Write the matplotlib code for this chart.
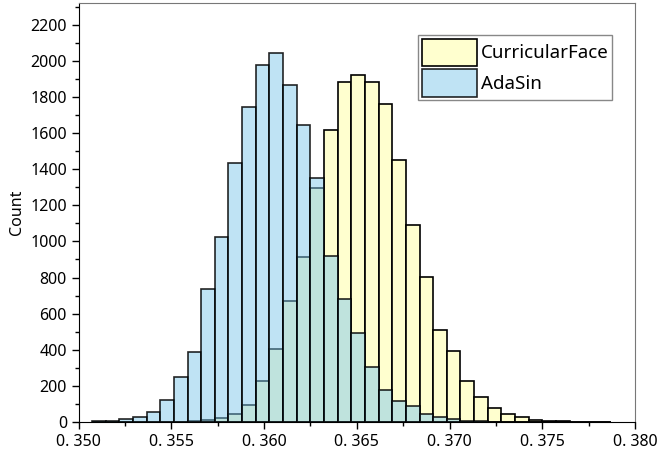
import numpy as np
import matplotlib
matplotlib.use('Agg')
import matplotlib.pyplot as plt
import matplotlib.ticker as ticker

# histogram bins (shared by both series)
bin_start = 0.350717
bin_width = 0.000736
n_bins = 38
edges = bin_start + bin_width * np.arange(n_bins + 1)
centers = (edges[:-1] + edges[1:]) / 2

# counts
curricular = [0, 0, 0, 0, 0, 1, 2, 5, 11, 24, 46, 92, 229, 404, 671, 915,
              1293, 1615, 1884, 1919, 1881, 1761, 1451, 1091, 803, 509, 393,
              227, 137, 75, 45, 28, 11, 5, 3, 2, 1, 1]
adasin = [3, 7, 14, 25, 53, 123, 249, 389, 737, 1024, 1435, 1742, 1974,
          2044, 1865, 1644, 1349, 920, 680, 495, 305, 178, 117, 88, 43, 28,
          15, 6, 3, 1, 0, 0, 0, 0, 0, 0, 0, 0]
labels = ['CurricularFace', 'AdaSin']

plt.rcParams['font.family'] = ['Noto Sans', 'DejaVu Sans']
plt.rcParams['font.size'] = 11

fig = plt.figure(figsize=(6.57, 4.54), dpi=100)
ax = fig.add_axes([0.1198, 0.0705, 0.8467, 0.9229])

ax.hist(centers, bins=edges, weights=curricular, facecolor='#FFFFCF',
        edgecolor='black', linewidth=1.2, label=labels[0])
ax.hist(centers, bins=edges, weights=adasin, facecolor=(0.5, 0.79, 0.92, 0.5),
        edgecolor=(0, 0, 0, 0.85), linewidth=1.2, label=labels[1])

ax.set_xlim(0.350, 0.380)
ax.set_ylim(0, 2320)
ax.xaxis.set_major_locator(ticker.MultipleLocator(0.005))
ax.xaxis.set_minor_locator(ticker.MultipleLocator(0.0025))
ax.yaxis.set_major_locator(ticker.MultipleLocator(200))
ax.yaxis.set_minor_locator(ticker.MultipleLocator(100))
ax.xaxis.set_major_formatter(ticker.FuncFormatter(lambda x, pos: f"{x:.3f}".replace('.', '. ')))
ax.tick_params(which='major', direction='out', length=5, width=1, labelsize=11.5)
ax.tick_params(which='minor', direction='out', length=3, width=1)

for side in ['top', 'right']:
    ax.spines[side].set_color('#777777')
for side in ['left', 'bottom']:
    ax.spines[side].set_color('black')

ax.set_ylabel('Count', fontsize=11.5)

leg = ax.legend(loc='upper right', bbox_to_anchor=(0.9587, 0.924), fontsize=13.5,
                handlelength=2.93, handleheight=1.85, labelspacing=0.2,
                handletextpad=0.2, borderpad=0.2, borderaxespad=0,
                fancybox=False, framealpha=1, edgecolor='#888888')
leg.get_frame().set_linewidth(1)

plt.savefig('out.png', dpi=100)
